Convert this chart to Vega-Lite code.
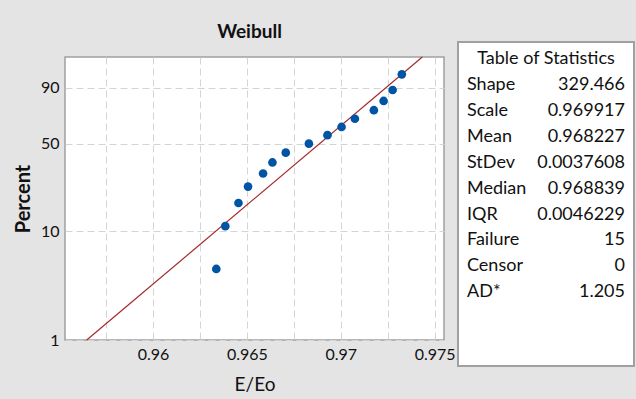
{
  "$schema": "https://vega.github.io/schema/vega-lite/v6.json",
  "background": "#e4e4e4",
  "padding": {"left": 12, "top": 21, "right": 10, "bottom": 10},
  "spacing": 1,
  "datasets": {
    "points": [
      {"E": 0.96337, "Percent": 4.545},
      {"E": 0.96385, "Percent": 11.039},
      {"E": 0.96455, "Percent": 17.532},
      {"E": 0.96506, "Percent": 24.026},
      {"E": 0.96586, "Percent": 30.519},
      {"E": 0.96636, "Percent": 37.013},
      {"E": 0.96707, "Percent": 43.506},
      {"E": 0.96830, "Percent": 50.0},
      {"E": 0.96929, "Percent": 56.494},
      {"E": 0.97004, "Percent": 62.987},
      {"E": 0.97075, "Percent": 69.481},
      {"E": 0.97176, "Percent": 75.974},
      {"E": 0.97228, "Percent": 82.468},
      {"E": 0.97276, "Percent": 88.961},
      {"E": 0.97325, "Percent": 95.455}
    ],
    "fit": [
      {"E": 0.95647, "Percent": 1},
      {"E": 0.97434, "Percent": 98.87}
    ],
    "stats": [
      {"row": 0, "label": "Table of Statistics", "value": "", "kind": "header"},
      {"row": 1, "label": "Shape", "value": "329.466", "kind": "item"},
      {"row": 2, "label": "Scale", "value": "0.969917", "kind": "item"},
      {"row": 3, "label": "Mean", "value": "0.968227", "kind": "item"},
      {"row": 4, "label": "StDev", "value": "0.0037608", "kind": "item"},
      {"row": 5, "label": "Median", "value": "0.968839", "kind": "item"},
      {"row": 6, "label": "IQR", "value": "0.0046229", "kind": "item"},
      {"row": 7, "label": "Failure", "value": "15", "kind": "item"},
      {"row": 8, "label": "Censor", "value": "0", "kind": "item"},
      {"row": 9, "label": "AD*", "value": "1.205", "kind": "item"}
    ]
  },
  "hconcat": [
    {
      "width": 379,
      "height": 283,
      "title": {"text": "Weibull", "fontSize": 19, "fontWeight": "bold", "font": "Lato", "color": "#111111", "frame": "group", "anchor": "middle", "offset": 13, "dx": -5},
      "view": {"fill": "white", "stroke": "#a0a0a0", "strokeWidth": 1.5},
      "layer": [
        {
          "data": {"name": "fit"},
          "transform": [{"calculate": "log(-log(1 - datum.Percent / 100))", "as": "W"}],
          "mark": {"type": "line", "color": "#a52a2a", "strokeWidth": 1.2},
          "encoding": {
            "x": {"field": "E", "type": "quantitative"},
            "y": {"field": "W", "type": "quantitative"}
          }
        },
        {
          "data": {"name": "points"},
          "transform": [{"calculate": "log(-log(1 - datum.Percent / 100))", "as": "W"}],
          "mark": {"type": "circle", "color": "#0054a6", "opacity": 1, "size": 75},
          "encoding": {
            "x": {
              "field": "E", "type": "quantitative",
              "scale": {"domain": [0.955314, 0.975495], "nice": false, "zero": false},
              "axis": {
                "title": "E/Eo",
                "values": [0.9575, 0.96, 0.9625, 0.965, 0.9675, 0.97, 0.9725, 0.975],
                "labelExpr": "abs(datum.value * 200 - round(datum.value * 200)) < 0.01 ? format(datum.value, '.3~f') : ''",
                "grid": true, "gridColor": "#d4d4d4", "gridDash": [7, 4], "gridWidth": 1,
                "ticks": false, "domain": false,
                "labelFontSize": 16, "labelFont": "Lato", "labelColor": "#111111", "labelPadding": 6,
                "titleFontSize": 19, "titleFont": "Lato", "titleFontWeight": "normal", "titleColor": "#111111", "titlePadding": 13
              }
            },
            "y": {
              "field": "W", "type": "quantitative",
              "scale": {"domain": [-4.6002, 1.502], "nice": false, "zero": false},
              "axis": {
                "title": "Percent",
                "values": [-4.6002, -2.2504, -0.3665, 0.834],
                "labelExpr": "format(100 * (1 - exp(-exp(datum.value))), '.0f')",
                "grid": true, "gridColor": "#d4d4d4", "gridDash": [7, 4], "gridWidth": 1,
                "ticks": false, "domain": false,
                "labelFontSize": 16, "labelFont": "Lato", "labelColor": "#111111", "labelPadding": 6,
                "titleFontSize": 20, "titleFont": "Lato", "titleFontWeight": "bold", "titleColor": "#111111", "titlePadding": 7
              }
            }
          }
        }
      ]
    },
    {
      "width": 176,
      "height": 309,
      "view": {"fill": null, "stroke": null},
      "data": {"name": "stats"},
      "encoding": {
        "y": {"field": "row", "type": "quantitative", "scale": {"domain": [-0.065, 11.833], "reverse": true, "nice": false, "zero": false}, "axis": null}
      },
      "layer": [
        {
          "mark": {"type": "rect", "fill": "white", "stroke": "#a0a0a0", "strokeWidth": 2, "clip": false},
          "encoding": {
            "x": {"datum": 0, "type": "quantitative", "scale": {"domain": [0, 1], "nice": false, "zero": false}, "axis": null},
            "x2": {"datum": 1},
            "y": {"datum": -0.643, "type": "quantitative"},
            "y2": {"datum": 11.833}
          }
        },
        {
          "transform": [{"filter": "datum.kind == 'header'"}],
          "mark": {"type": "text", "align": "center", "baseline": "middle", "font": "Lato", "fontSize": 18, "color": "#111111"},
          "encoding": {
            "x": {"datum": 0.5, "type": "quantitative"},
            "y": {"field": "row", "type": "quantitative"},
            "text": {"field": "label"}
          }
        },
        {
          "transform": [{"filter": "datum.kind == 'item'"}],
          "mark": {"type": "text", "align": "left", "baseline": "middle", "font": "Lato", "fontSize": 18, "color": "#111111", "dx": 9},
          "encoding": {
            "x": {"datum": 0, "type": "quantitative"},
            "y": {"field": "row", "type": "quantitative"},
            "text": {"field": "label"}
          }
        },
        {
          "transform": [{"filter": "datum.kind == 'item'"}],
          "mark": {"type": "text", "align": "right", "baseline": "middle", "font": "Lato", "fontSize": 18, "color": "#111111", "dx": -9},
          "encoding": {
            "x": {"datum": 1, "type": "quantitative"},
            "y": {"field": "row", "type": "quantitative"},
            "text": {"field": "value"}
          }
        }
      ]
    }
  ],
  "config": {
    "font": "Lato"
  }
}
